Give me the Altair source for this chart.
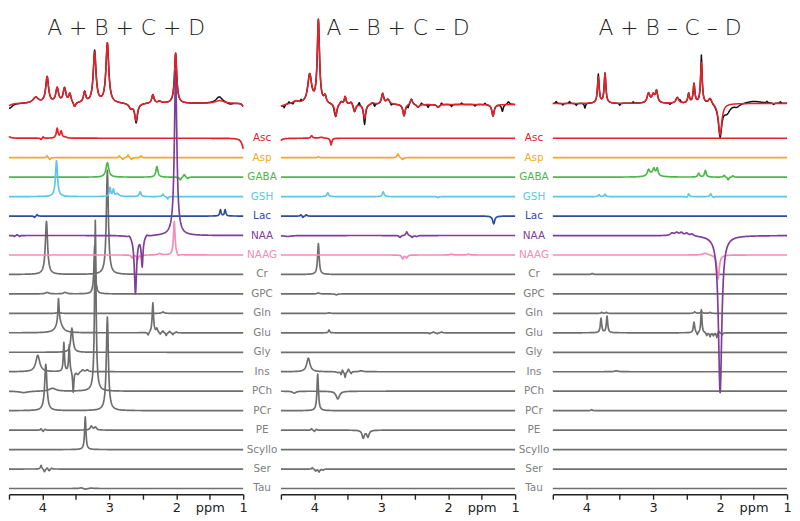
import numpy as np
import pandas as pd
import altair as alt

alt.data_transformers.disable_max_rows()

TITLES = ["A + B + C + D", "A \u2013 B + C \u2013 D", "A + B \u2013 C \u2013 D"]
NAMES = ["Asc", "Asp", "GABA", "GSH", "Lac", "NAA", "NAAG", "Cr", "GPC", "Gln",
         "Glu", "Gly", "Ins", "PCh", "PCr", "PE", "Scyllo", "Ser", "Tau"]
COLOURS = {"Asc": "#e4202a", "Asp": "#f7a823", "GABA": "#4cb848", "GSH": "#5cc6e8",
           "Lac": "#2c4d9f", "NAA": "#7f3f98", "NAAG": "#f58cb8"}
GRAY = "#6e6e6e"
LABEL_GRAY = "#808080"
TICKS = [4.5, 4.0, 3.5, 3.0, 2.5, 2.0, 1.5, 1.0]

# peak tables: (ppm, height, half-width)  -- heights
P1 = {
    "Asc": [(4.53, 4, 0.03), (4.02, -1.5, 0.01), (3.99, 1.5, 0.01), (3.78, 10, 0.015),
            (3.72, 7, 0.015), (3.66, 1, 0.03), (0.99, -12, 0.03)],
    "Asp": [(3.93, 2, 0.012), (3.89, -2, 0.012), (2.85, 2, 0.012), (2.8, -2, 0.012),
            (2.72, 3, 0.012), (2.67, -2, 0.012), (2.53, 2, 0.012)],
    "GABA": [(3.03, 15, 0.025), (2.29, 11, 0.018), (1.94, -3, 0.015), (1.88, 3, 0.015),
             (1.83, -1.5, 0.015)],
    "GSH": [(3.79, 37, 0.018), (2.99, 9, 0.012), (2.94, 7, 0.012), (2.88, 3, 0.03),
            (2.54, 5, 0.015), (2.2, 2.5, 0.015), (2.13, -2.5, 0.012)],
    "Lac": [(4.12, -1.5, 0.01), (4.08, 1.5, 0.01), (1.34, 6.5, 0.012), (1.27, 6.5, 0.012)],
    "NAA": [(4.42, -1, 0.01), (4.38, 1, 0.01), (4.34, -1, 0.01), (2.7, 2, 0.02),
            (2.61, -60, 0.02), (2.51, -31, 0.015), (2.44, 2, 0.02), (2.01, 170, 0.022)],
    "NAAG": [(2.66, -3, 0.015), (2.58, -5, 0.012), (2.52, -3, 0.012), (2.25, 1.5, 0.03),
             (2.03, 35, 0.014), (1.97, -2, 0.02)],
    "Cr": [(3.94, 55, 0.02), (3.03, 108, 0.018)],
    "GPC": [(3.93, 1.5, 0.03), (3.66, 1.5, 0.03), (3.22, 50, 0.013)],
    "Gln": [(3.76, 1.5, 0.02), (2.2, 1.5, 0.02)],
    "Glu": [(3.76, 24, 0.01), (3.75, 12, 0.05), (2.42, -3, 0.012), (2.35, 31, 0.012),
            (2.29, 4, 0.012), (2.24, -2, 0.01), (2.2, 2, 0.01), (2.15, -3, 0.01),
            (2.1, 1.5, 0.01), (2.05, -2, 0.01), (2.0, 1, 0.01)],
    "Gly": [(3.56, 25, 0.02)],
    "Ins": [(4.07, 17, 0.035), (3.68, 30, 0.01), (3.6, 28, 0.01), (3.54, -22, 0.01),
            (3.47, -3, 0.02), (3.4, 2, 0.02), (3.33, 2, 0.02)],
    "PCh": [(4.28, -1.5, 0.08), (3.85, 3, 0.06), (3.21, 177, 0.013)],
    "PCr": [(3.95, 48, 0.02), (3.03, 97, 0.018)],
    "PE": [(4.02, 1.5, 0.01), (3.99, -1.5, 0.01), (3.96, 1, 0.01), (3.27, 4, 0.02),
           (3.21, 3, 0.02)],
    "Scyllo": [(3.36, 34, 0.012)],
    "Ser": [(4.02, 4, 0.012), (3.97, -3, 0.012), (3.93, 1.5, 0.012), (3.9, -2, 0.012),
            (3.86, 1, 0.012)],
    "Tau": [(3.42, 0.8, 0.03), (3.36, -0.8, 0.03), (3.27, 0.5, 0.03)],
}
P2 = {
    "Asc": [(4.53, -5, 0.03), (4.04, 2.7, 0.015), (3.9, 1, 0.04), (3.75, -7, 0.013)],
    "Asp": [(3.94, 1, 0.012), (2.75, 4, 0.015), (2.68, -2, 0.015)],
    "GABA": [],
    "GSH": [(3.8, 4, 0.015), (2.97, 5, 0.015), (2.15, -1, 0.015)],
    "Lac": [(4.2, 1.5, 0.01), (4.17, -1.5, 0.01), (4.12, 1.5, 0.01), (1.32, -8, 0.018)],
    "NAA": [(4.4, -1, 0.06), (2.72, -2, 0.015), (2.62, 4, 0.015), (2.54, -2, 0.015),
            (2.47, -1, 0.02)],
    "NAAG": [(2.68, -4, 0.015), (2.62, -3, 0.015), (1.95, 1, 0.02), (1.7, 1, 0.02)],
    "Cr": [(3.94, 32, 0.014)],
    "GPC": [(3.94, 1, 0.02), (3.67, -1, 0.02)],
    "Gln": [(3.78, 0.5, 0.02)],
    "Glu": [(3.78, 3, 0.01), (2.28, -1, 0.01), (2.22, 1, 0.01), (2.16, -1, 0.01),
            (2.1, 1, 0.01)],
    "Gly": [],
    "Ins": [(4.09, 14, 0.03), (3.65, -1, 0.02), (3.6, -3, 0.008), (3.58, 2.5, 0.008),
            (3.54, -6, 0.01), (3.49, 3, 0.01), (3.45, -2, 0.01), (3.3, 1, 0.03)],
    "PCh": [(4.3, -2, 0.03), (3.65, -8, 0.03)],
    "PCr": [(3.95, 38, 0.013)],
    "PE": [(4.04, 1.5, 0.01), (4.0, -1.5, 0.01), (3.97, 1, 0.01), (3.27, -8, 0.02),
           (3.2, -7, 0.02)],
    "Scyllo": [],
    "Ser": [(4.03, 1.5, 0.01), (3.98, -2, 0.012), (3.93, -3, 0.012), (3.87, -1, 0.015)],
    "Tau": [],
}
P3 = {
    "Asc": [], "Asp": [], "Lac": [],
    "GABA": [(3.07, 6, 0.02), (2.99, 5, 0.015), (2.94, 7, 0.015), (3.0, 4, 0.07),
             (2.32, 4, 0.015), (2.22, 7, 0.015), (1.94, 2, 0.012), (1.88, -3, 0.012),
             (1.81, 1.5, 0.012)],
    "GSH": [(3.81, 2, 0.012), (3.72, 2.5, 0.012), (2.5, -1, 0.012), (2.47, 3, 0.012),
            (2.14, 3, 0.012), (2.1, -1, 0.012)],
    "NAA": [(2.72, 2.5, 0.03), (2.65, 3, 0.03), (2.58, 3, 0.03), (2.5, 2.5, 0.03),
            (2.42, 2, 0.03), (2.0, -163, 0.03)],
    "NAAG": [(2.22, 2, 0.05), (2.03, -25, 0.02)],
    "Cr": [(3.91, 1, 0.015)],
    "GPC": [],
    "Gln": [(3.77, 1, 0.012), (3.7, 1, 0.012), (2.38, 1.5, 0.015), (2.28, 2, 0.015),
            (2.15, 1, 0.015)],
    "Glu": [(3.78, 15, 0.012), (3.69, 17, 0.012), (2.39, 11, 0.012), (2.34, -3, 0.01),
            (2.28, 24, 0.01), (2.2, -3, 0.01), (2.15, -4, 0.01), (2.1, -3, 0.01),
            (2.05, -5, 0.008), (2.02, 2, 0.008), (1.97, -2, 0.01)],
    "Gly": [], "Ins": [(3.55, 1, 0.03)], "PCh": [], "PCr": [(3.92, 1, 0.012)],
    "PE": [], "Scyllo": [], "Ser": [], "Tau": [],
}
PANEL_PEAKS = [P1, P2, P3]

# fitted spectra (red) and measured spectra (black = fit + residual features)
FIT = [
    [(4.52, -3, 0.05), (4.1, 6, 0.05), (3.93, 27, 0.025), (3.78, 15, 0.025),
     (3.67, 15, 0.025), (3.59, 9, 0.02), (3.52, -5, 0.02), (3.37, 11, 0.02),
     (3.22, 52, 0.025), (3.03, 62, 0.025), (2.68, -5, 0.03), (2.6, -18, 0.025),
     (2.35, 9, 0.02), (2.25, 2, 0.03), (2.01, 52, 0.02), (1.35, 3, 0.08),
     (1.0, -3, 0.02)],
    [(4.5, -2, 0.05), (4.28, 3, 0.05), (4.07, 30, 0.035), (3.94, 86, 0.02),
     (3.84, 7, 0.02), (3.68, -13, 0.02), (3.6, 3, 0.02), (3.54, 8, 0.015),
     (3.45, 3, 0.025), (3.4, -8, 0.02), (3.25, -15, 0.02), (3.13, 2, 0.03),
     (2.98, 11, 0.02), (2.9, 5, 0.03), (2.66, -12, 0.02), (2.55, 6, 0.02),
     (2.45, -3, 0.025), (2.15, -3, 0.025), (1.33, -12, 0.02)],
    [(3.82, 27, 0.015), (3.72, 31, 0.015), (3.07, 10, 0.025), (3.0, 8, 0.025),
     (2.95, 12, 0.02), (2.64, 6, 0.025), (2.47, 10, 0.015), (2.39, 20, 0.015),
     (2.28, 42, 0.015), (2.15, 6, 0.03), (2.0, -33, 0.03)],
]
RESID = [
    [(4.48, -3, 0.04), (1.36, 4, 0.05), (1.2, -1.5, 0.05), (2.6, -2, 0.015),
     (3.22, 2, 0.01)],
    [(4.45, -3, 0.01), (4.38, 2, 0.01), (4.32, -2, 0.01), (4.2, 2, 0.01),
     (3.7, -3, 0.01), (3.25, -6, 0.01), (3.33, 3, 0.01), (3.1, -3, 0.01),
     (2.85, -2, 0.01), (2.6, -3, 0.01), (2.4, 2, 0.01), (2.3, -3, 0.01),
     (2.1, 2, 0.01), (1.95, -2, 0.01), (1.8, 1.5, 0.01), (1.6, -1.5, 0.01),
     (1.45, 1.5, 0.01), (1.19, -7, 0.015), (1.1, 3, 0.02)],
    [(4.45, 2, 0.01), (4.35, -1.5, 0.01), (4.25, 2, 0.01), (4.15, -2, 0.01),
     (4.02, -5, 0.01), (3.82, 3, 0.008), (3.5, -2, 0.01), (3.3, 1.5, 0.01),
     (2.75, -1.5, 0.01), (2.6, 2, 0.01), (2.28, 8, 0.006), (1.9, -9, 0.06),
     (1.75, -3, 0.05), (1.5, 2.5, 0.15), (1.3, 1.5, 0.01), (1.2, -1.5, 0.01),
     (1.1, 1.5, 0.01)],
]

# ---------------------------------------------------------------- layout
W, H = 236, 488
YMAX = 502.0                   # y units: picture pixels measured upward from the axis
ROW0, ROWSTEP = 133.0, 20.17   # baseline of first trace and spacing (picture px)
TOP_BASE = [97.0, 98.0, 97.0]
PPM = np.round(np.arange(1.0, 4.5 + 1e-9, 0.005), 3)
FONT = "DejaVu Sans"


def lorentz(peaks):
    v = np.zeros_like(PPM)
    for c, h, w in peaks:
        v = v + h * w * w / ((PPM - c) ** 2 + w * w)
    return v


def base_of(i):
    return YMAX - (ROW0 + i * ROWSTEP)


X = alt.X("ppm:Q",
          scale=alt.Scale(domain=[4.5, 1.0], nice=False, zero=False),
          axis=alt.Axis(values=TICKS, title=None, grid=False,
                        labelExpr="datum.value == 1.5 ? 'ppm' : (datum.value % 1 == 0 ? format(datum.value, 'd') : '')",
                        tickSize=5, tickWidth=1.4, domainWidth=1.4,
                        domainColor="#222222", tickColor="#222222",
                        labelColor="#222222", labelFontSize=13, labelFont=FONT,
                        labelFlush=False, labelOverlap=False, labelPadding=2))
Y = alt.Y("v:Q", scale=alt.Scale(domain=[0, YMAX], nice=False, zero=False), axis=None)


def panel(k, labels):
    peaks = PANEL_PEAKS[k]
    rows = []
    for i, n in enumerate(NAMES):
        v = base_of(i) + lorentz(peaks[n])
        kind = "naa" if n == "NAA" else ("col" if n in COLOURS else "gray")
        rows.append(pd.DataFrame({"ppm": PPM, "v": np.round(v, 2), "name": n,
                                  "kind": kind, "col": COLOURS.get(n, GRAY)}))
    df = pd.concat(rows, ignore_index=True)
    tb = YMAX - TOP_BASE[k]
    fit = tb + lorentz(FIT[k])
    dat = fit + lorentz(RESID[k])
    top = pd.concat([
        pd.DataFrame({"ppm": PPM, "v": np.round(dat, 2), "name": "data"}),
        pd.DataFrame({"ppm": PPM, "v": np.round(fit, 2), "name": "fit"}),
    ], ignore_index=True)

    gray = alt.Chart(df[df.kind == "gray"]).mark_line(
        strokeWidth=1.7, color=GRAY, strokeJoin="round").encode(x=X, y=Y, detail="name:N")
    col = alt.Chart(df[df.kind == "col"]).mark_line(
        strokeWidth=1.7, strokeJoin="round").encode(
        x=X, y=Y, detail="name:N", color=alt.Color("col:N", scale=None))
    naa = alt.Chart(df[df.kind == "naa"]).mark_line(
        strokeWidth=1.7, strokeJoin="round", color=COLOURS["NAA"]).encode(x=X, y=Y)
    blk = alt.Chart(top[top.name == "data"]).mark_line(
        strokeWidth=1.5, color="#111111", strokeJoin="round").encode(x=X, y=Y)
    red = alt.Chart(top[top.name == "fit"]).mark_line(
        strokeWidth=1.5, color="#e8202a", strokeJoin="round").encode(x=X, y=Y)
    ttl = alt.Chart(pd.DataFrame({"t": [TITLES[k]]})).mark_text(
        font=FONT, fontSize=22, fontWeight=200, color="#222222", baseline="alphabetic",
        align="center").encode(
        text="t:N", x=alt.value(W / 2), y=alt.value(26 * H / YMAX))
    layers = [gray, col, naa, blk, red, ttl]
    if labels:
        lab = pd.DataFrame({"name": NAMES, "v": [base_of(i) for i in range(len(NAMES))],
                            "col": [COLOURS.get(n, LABEL_GRAY) for n in NAMES]})
        txt = alt.Chart(lab).mark_text(font=FONT, fontSize=10.5, align="center",
                                       baseline="middle").encode(
            x=alt.value(W + 19), y=Y, text="name:N", color=alt.Color("col:N", scale=None))
        layers.append(txt)
    return alt.layer(*layers).properties(width=W, height=H)


chart = alt.hconcat(panel(0, True), panel(1, True), panel(2, False),
                    spacing=38, bounds="flush").properties(padding=0).configure_view(
    strokeWidth=0)

chart.save("out.html", embed_options={"renderer": "svg", "actions": False})
